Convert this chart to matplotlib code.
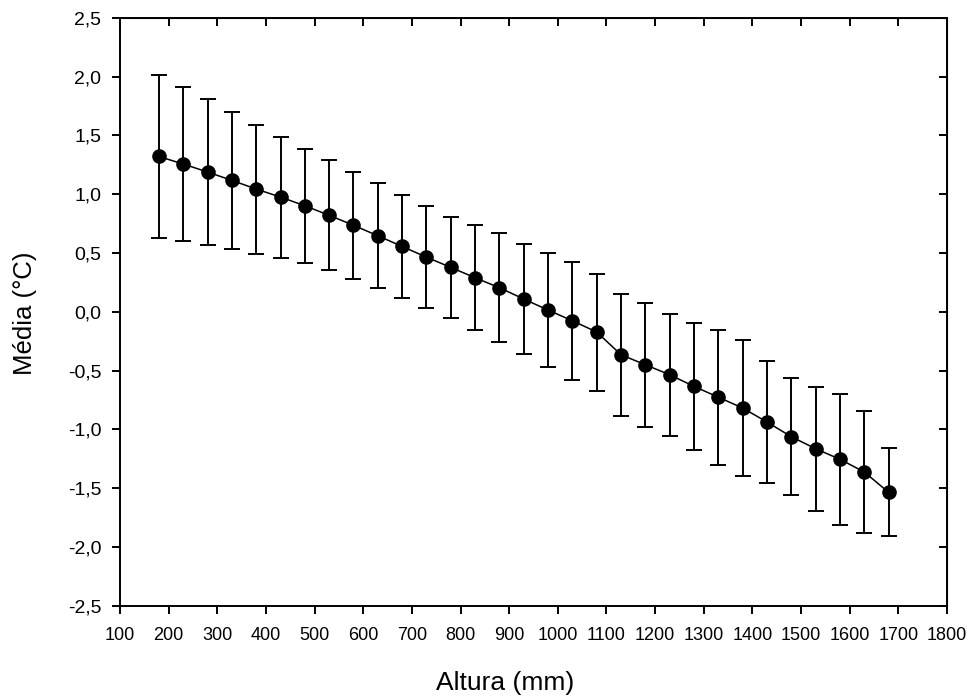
import numpy as np
import matplotlib
matplotlib.use('Agg')
from matplotlib import pyplot as plt
from matplotlib.ticker import FuncFormatter, MultipleLocator

plt.rcParams['font.family'] = ['Liberation Sans', 'DejaVu Sans']

# altura das medidas (mm)
altura = [180, 230, 280, 330, 380, 430, 480, 530, 580, 630,
          680, 730, 780, 830, 880, 930, 980, 1030, 1080, 1130,
          1180, 1230, 1280, 1330, 1380, 1430, 1480, 1530, 1580, 1630, 1680]
# media da temperatura (°C)
media = [1.32, 1.256, 1.188, 1.117, 1.043, 0.975, 0.901, 0.820, 0.735, 0.646,
         0.555, 0.464, 0.377, 0.289, 0.204, 0.108, 0.014, -0.077, -0.173, -0.366,
         -0.451, -0.536, -0.635, -0.727, -0.819, -0.938, -1.063, -1.165, -1.255, -1.363, -1.536]
# desvio padrao
desvio = [0.695, 0.654, 0.620, 0.585, 0.549, 0.515, 0.485, 0.466, 0.453, 0.445,
          0.438, 0.433, 0.431, 0.445, 0.463, 0.470, 0.483, 0.500, 0.497, 0.517,
          0.527, 0.517, 0.537, 0.573, 0.580, 0.515, 0.496, 0.527, 0.557, 0.520, 0.374]

fig = plt.figure(figsize=(9.73, 6.98), dpi=100)
ax = fig.add_axes([0.1233, 0.1322, 0.8500, 0.8424])

ax.errorbar(altura, media, yerr=desvio, fmt='-o', color='black', ecolor='black',
            lw=1.1, elinewidth=1.4, capsize=6, capthick=1.4, markersize=9.5)

ax.set_xlim(100, 1800)
ax.set_ylim(-2.5, 2.5)
ax.xaxis.set_major_locator(MultipleLocator(100))
ax.yaxis.set_major_locator(MultipleLocator(0.5))
ax.yaxis.set_major_formatter(FuncFormatter(lambda v, p: ('%.1f' % v).replace('.', ',')))

for s in ax.spines.values():
    s.set_linewidth(1.4)

ax.tick_params(axis='x', which='major', direction='out', length=6, width=1.4,
               labelsize=13, pad=9)
ax.tick_params(axis='y', which='major', direction='out', length=6, width=1.4,
               labelsize=14, pad=7.5)

# ticks internos nos eixos de cima e da direita
ax_top = ax.secondary_xaxis('top')
ax_top.xaxis.set_major_locator(MultipleLocator(100))
ax_top.tick_params(direction='in', length=5.5, width=1.4, labeltop=False)
ax_right = ax.secondary_yaxis('right')
ax_right.yaxis.set_major_locator(MultipleLocator(0.5))
ax_right.tick_params(direction='in', length=5.5, width=1.4, labelright=False)

ax.set_xlabel('Altura (mm)', fontsize=19)
ax.set_ylabel('Média (°C)', fontsize=18.5)
ax.xaxis.set_label_coords(0.466, -0.111)
ax.yaxis.set_label_coords(-0.100, 0.497)

fig.savefig('out.png', dpi=100)
